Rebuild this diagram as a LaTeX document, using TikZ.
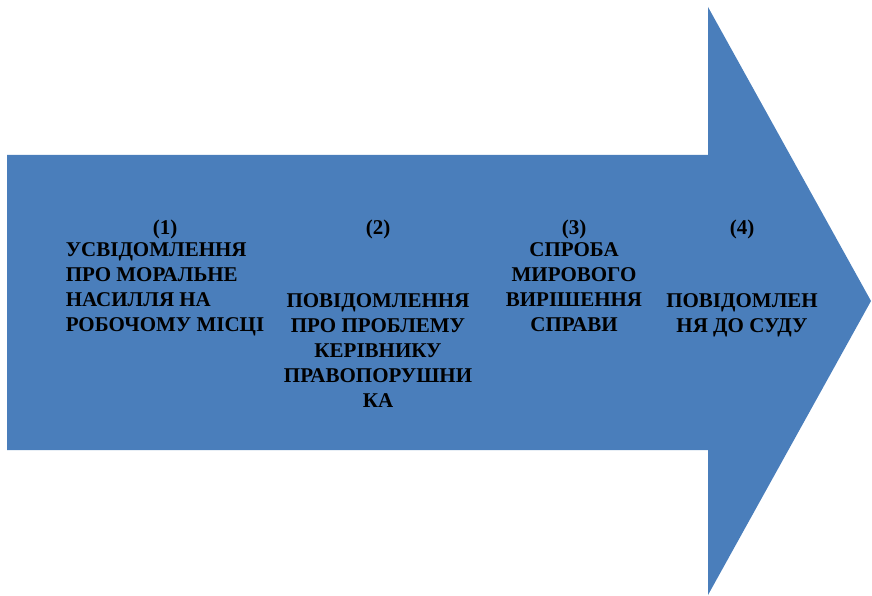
\documentclass[tikz,border=0pt]{standalone}
\usepackage{fontspec}
\setmainfont{Liberation Serif}
\usepackage{tikz}
\usetikzlibrary{positioning}
\definecolor{arrowblue}{RGB}{74,126,187}
\tikzset{
  numlabel/.style={inner sep=0pt, font=\bfseries\fontsize{21}{25.2}\selectfont},
  steptext/.style={inner sep=0pt, anchor=north, font=\bfseries\fontsize{21}{25.2}\selectfont}
}

\begin{document}
\begin{tikzpicture}[x=1pt,y=-1pt]
  \useasboundingbox (0,0) rectangle (872,596);
  % Draw the big arrow
  \fill[arrowblue] (7,155) -- (708,155) -- (708,7) -- (871,301)
    -- (708,595) -- (708,450) -- (7,450) -- cycle;
  % Draw step numbers
  \foreach \idx/\xpos in {1/165,2/378,3/574,4/742} {
    \node[numlabel] (n\idx) at (\xpos,229) {(\idx)}; }
  % Draw step texts
  \node[steptext, align=left] (t1) at (165,242)
    {УСВІДОМЛЕННЯ\\ПРО МОРАЛЬНЕ\\НАСИЛЛЯ НА\\РОБОЧОМУ МІСЦІ};
  \node[steptext, align=center] (t2) at (378,293)
    {ПОВІДОМЛЕННЯ\\ПРО ПРОБЛЕМУ\\КЕРІВНИКУ\\ПРАВОПОРУШНИ\\КА};
  \node[steptext, align=center] (t3) at (574,242)
    {СПРОБА\\МИРОВОГО\\ВИРІШЕННЯ\\СПРАВИ};
  \node[steptext, align=center] (t4) at (742,293)
    {ПОВІДОМЛЕН\\НЯ ДО СУДУ};
\end{tikzpicture}
\end{document}
